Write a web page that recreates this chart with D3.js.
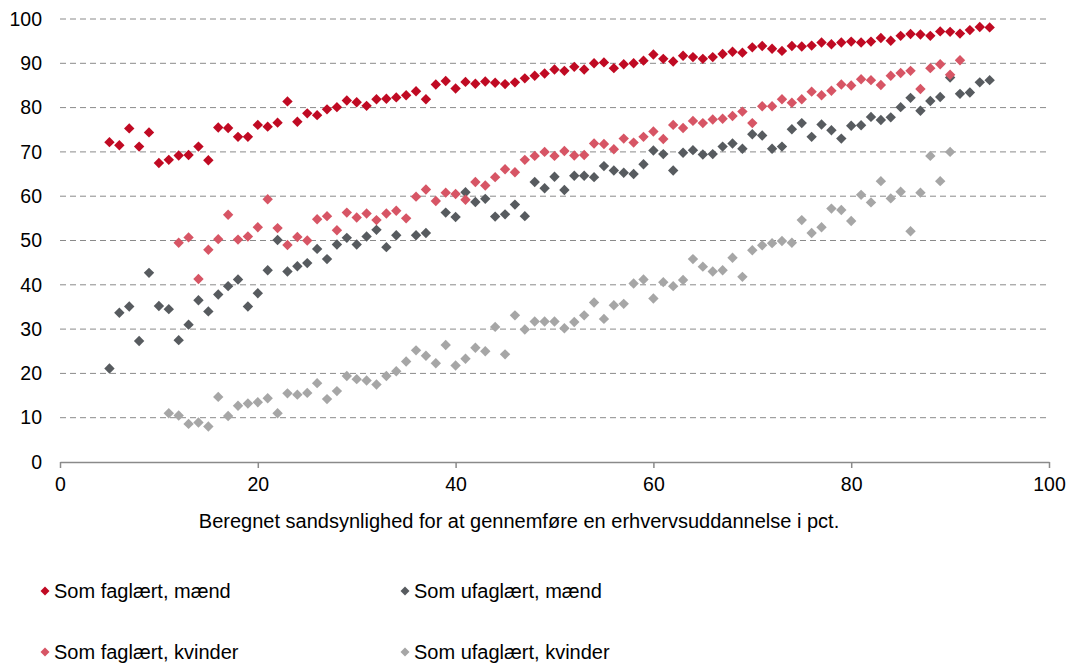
<!DOCTYPE html>
<html lang="da">

<head>
    <meta charset="UTF-8">
    <script src='https://cdnjs.cloudflare.com/ajax/libs/d3/7.8.5/d3.min.js'></script>
    <title>Chart</title>
    <style>
        body { margin: 0; background: #fff; }
        text { font-family: "Liberation Sans", Arial, sans-serif; fill: #000; }
    </style>
</head>

<body>
    <div id='plot'></div>
</body>

<script>
    // x-values 5..94, null = no point drawn
    const xs = d3.range(5, 95);

    const fagMaend = [72.2, 71.5, 75.3, 71.2, 74.4, 67.5, 68.2, 69.2, 69.3, 71.2, 68.1, 75.5, 75.4, 73.4, 73.4, 76.1, 75.7, 76.6, 81.4, 76.8,
        78.7, 78.3, 79.6, 80.1, 81.6, 81.2, 80.4, 81.9, 82.0, 82.3, 82.8, 83.7, 81.9, 85.2, 86.0, 84.3, 85.8, 85.4, 85.9, 85.6,
        85.3, 85.7, 86.6, 87.2, 87.7, 88.6, 88.3, 89.2, 88.6, 90.0, 90.2, 88.9, 89.8, 90.0, 90.6, 92.0, 91.0, 90.4, 91.7, 91.4,
        91.0, 91.4, 92.1, 92.6, 92.4, 93.6, 93.9, 93.3, 92.8, 93.9, 93.8, 94.0, 94.7, 94.3, 94.7, 94.9, 94.7, 94.9, 95.7, 95.1,
        96.2, 96.6, 96.5, 96.2, 97.2, 97.1, 96.7, 97.5, 98.2, 98.1];

    const ufagMaend = [21.1, 33.7, 35.1, 27.3, 42.7, 35.2, 34.5, 27.5, 31.0, 36.5, 34.0, 37.8, 39.7, 41.2, 35.1, 38.1, 43.3, 50.1, 43.0, 44.2,
        44.9, 48.1, 45.8, 49.1, 50.6, 49.1, 50.9, 52.4, 48.5, 51.2, null, 51.2, 51.7, null, 56.3, 55.3, 60.9, 58.7, 59.4, 55.4,
        55.9, 58.1, 55.5, 63.2, 61.8, 64.4, 61.4, 64.6, 64.6, 64.3, 66.8, 65.8, 65.3, 65.0, 67.2, 70.3, 69.5, 65.8, 69.8, 70.4,
        69.4, 69.5, 71.2, 71.9, 70.7, 74.0, 73.7, 70.7, 71.2, 75.1, 76.5, 73.4, 76.2, 74.9, 73.0, 75.9, 76.0, 77.9, 77.2, 77.8,
        80.1, 82.2, 79.3, 81.5, 82.4, 86.8, 83.1, 83.4, 85.7, 86.2];

    const fagKvinder = [null, null, null, null, null, null, null, 49.5, 50.7, 41.3, 47.9, 50.3, 55.8, 50.2, 50.9, 53.0, 59.3, 52.8, 49.0, 50.8,
        50.0, 54.8, 55.5, 52.3, 56.3, 55.2, 56.1, 54.6, 56.1, 56.7, 55.0, 59.9, 61.5, 58.9, 60.8, 60.5, 59.2, 63.2, 62.4, 64.3,
        66.1, 65.4, 68.2, 69.1, 70.0, 69.1, 70.2, 69.2, 69.3, 71.9, 71.8, 70.6, 73.0, 72.1, 73.4, 74.6, 72.9, 76.1, 75.4, 77.0,
        76.5, 77.3, 77.5, 78.1, 79.1, 76.5, 80.3, 80.3, 81.9, 81.1, 81.9, 83.6, 82.8, 83.8, 85.2, 85.0, 86.4, 86.2, 85.1, 87.2,
        87.8, 88.3, 84.2, 88.9, 89.8, 87.4, 90.7, null, null, null];

    const ufagKvinder = [null, null, null, null, null, null, 11.0, 10.5, 8.6, 8.9, 8.0, 14.7, 10.4, 12.7, 13.2, 13.5, 14.4, 11.0, 15.5, 15.2,
        15.6, 17.8, 14.2, 16.0, 19.4, 18.7, 18.4, 17.5, 19.4, 20.5, 22.7, 25.2, 24.0, 22.3, 26.4, 21.8, 23.3, 25.8, 25.0, 30.5,
        24.3, 33.1, 29.9, 31.7, 31.7, 31.7, 30.2, 31.6, 33.1, 36.0, 32.3, 35.4, 35.7, 40.3, 41.2, 36.9, 40.6, 39.7, 41.1, 45.8,
        44.1, 43.0, 43.3, 46.1, 41.8, 47.8, 48.9, 49.4, 49.9, 49.5, 54.6, 51.7, 53.0, 57.2, 56.9, 54.4, 60.3, 58.6, 63.4, 59.5,
        61.0, 52.1, 60.8, 69.1, 63.4, 70.0, null, null, null, null];

    const seriesNames = ["Som faglært, mænd", "Som ufaglært, mænd", "Som faglært, kvinder", "Som ufaglært, kvinder"];
    const seriesColors = ["#c00a23", "#575b5f", "#d75565", "#a6a6a6"];
    const seriesValues = [fagMaend, ufagMaend, fagKvinder, ufagKvinder];

    const xTicks = [0, 20, 40, 60, 80, 100];
    const yTicks = d3.range(0, 101, 10);
    const xTitle = "Beregnet sandsynlighed for at gennemføre en erhvervsuddannelse i pct.";

    // set the dimensions and margins of the graph
    var margin = { top: 19, left: 60 },
        width = 989,
        height = 443;

    var svg = d3.select("#plot")
        .append("svg")
        .attr("width", 1072)
        .attr("height", 665);

    var g = svg.append("g")
        .attr("transform", "translate(" + margin.left + "," + margin.top + ")");

    var x = d3.scaleLinear().domain([0, 100]).range([0, width]);
    var y = d3.scaleLinear().domain([0, 100]).range([height, 0]);

    // gridlines
    g.append("g")
        .selectAll("line")
        .data(yTicks.filter(d => d > 0))
        .enter()
        .append("line")
        .attr("x1", 0)
        .attr("x2", width)
        .attr("y1", d => y(d))
        .attr("y2", d => y(d))
        .attr("stroke", "#8a8a8a")
        .attr("stroke-width", 1)
        .attr("stroke-dasharray", "6,4");

    // y labels
    var yAxis = g.append("g")
        .call(d3.axisLeft(y).tickValues(yTicks).tickSize(0).tickPadding(18));
    yAxis.select(".domain").remove();
    yAxis.selectAll("text").style("font-size", "19.5px").attr("font-family", "Liberation Sans, Arial, sans-serif");

    // x axis
    var xAxis = g.append("g")
        .attr("transform", "translate(0," + height + ")")
        .call(d3.axisBottom(x).tickValues(xTicks).tickSize(6).tickPadding(9).tickSizeOuter(0));
    xAxis.select(".domain").attr("stroke", "#8a8a8a").attr("stroke-width", 1.5);
    xAxis.selectAll(".tick line").attr("stroke", "#8a8a8a").attr("stroke-width", 1.5);
    xAxis.selectAll("text").style("font-size", "19.5px").attr("font-family", "Liberation Sans, Arial, sans-serif");

    svg.append("text")
        .attr("x", 519)
        .attr("y", 528)
        .attr("text-anchor", "middle")
        .style("font-size", "20px")
        .text(xTitle);

    // dots (diamonds)
    const diamond = r => `M0,${-r}L${r},0L0,${r}L${-r},0Z`;
    seriesValues.forEach((vals, i) => {
        g.append("g")
            .selectAll("path")
            .data(xs.map((v, k) => [v, vals[k]]).filter(d => d[1] != null))
            .enter()
            .append("path")
            .attr("d", diamond(5.2))
            .attr("transform", d => "translate(" + x(d[0]) + "," + y(d[1]) + ")")
            .style("fill", seriesColors[i]);
    });

    // legend
    const legPos = [[45, 591], [405, 591], [45, 652], [405, 652]];
    seriesNames.forEach((name, i) => {
        var lg = svg.append("g")
            .attr("transform", "translate(" + legPos[i][0] + "," + legPos[i][1] + ")");
        lg.append("path")
            .attr("d", diamond(4.5))
            .style("fill", seriesColors[i]);
        lg.append("text")
            .attr("x", 9)
            .attr("y", 7)
            .style("font-size", "20px")
            .text(name);
    });
</script>

</html>
